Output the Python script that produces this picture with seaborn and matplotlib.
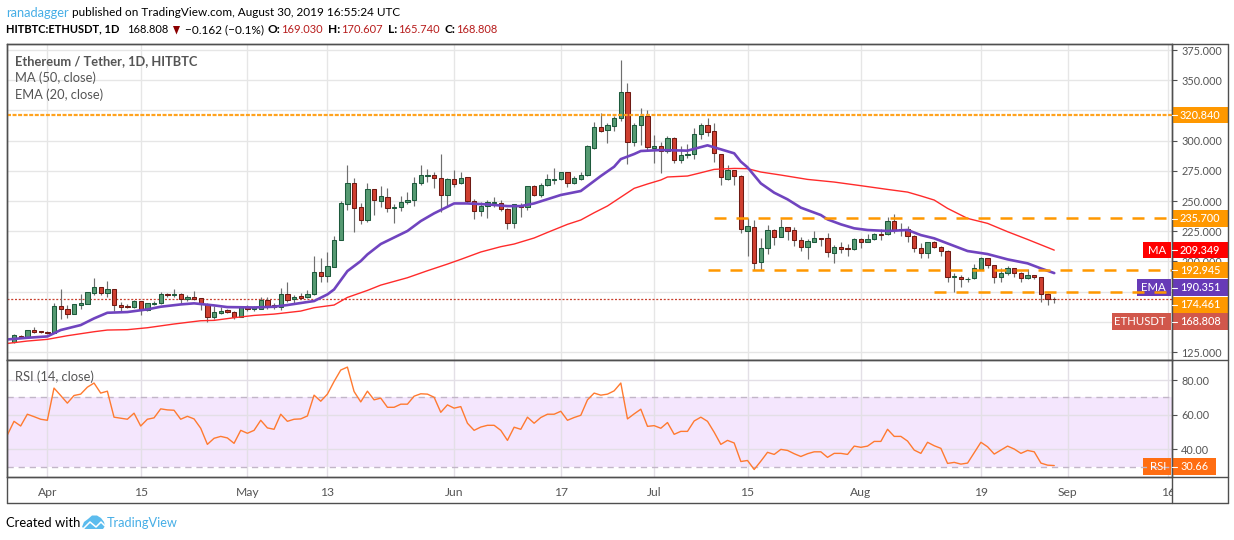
import matplotlib
matplotlib.use('Agg')
import matplotlib.pyplot as plt
from matplotlib.patches import Rectangle, Polygon
from matplotlib.lines import Line2D
import numpy as np
import pandas as pd
import seaborn as sns

# daily candles, first one is 2019-03-27
first_day = '2019-03-27'
opens = [133.5,138.5,137.1,142.9,142.1,141.2,
    141,162.8,160.3,156.7,164.2,165,174.1,178.5,174.1,176.9,
    163.6,163,162.5,166.9,159.5,165,165.3,173,172.4,172.7,
    168.9,170.2,169.4,164.4,154.2,157.5,159.5,157.8,154.2,161.9,
    160.3,160.8,167.7,163.6,162.5,172.7,168.6,171,170.5,172.7,
    190.9,188.2,195.6,217.4,247.8,264.6,244.7,234,259.6,250.3,
    253,243.9,244.7,248.9,250.5,264.6,271,271.2,268.8,254.7,
    267.9,264.6,269.6,249.7,241.4,245.6,248.6,248.6,243.1,231.5,
    246.4,244.7,262.1,254.7,262.9,267.7,267.9,273.7,264.6,268.5,
    271.2,294.2,311,308.8,311.8,318.4,340,298.6,312.6,320.1,
    294.2,295.3,291.7,301.9,283.7,287.8,288.6,305.2,312.6,307.7,
    289.2,268.5,275.4,270.4,225.4,228.2,199.2,210.8,225.7,220.5,
    228.2,225.7,217.4,212.2,216.3,219.4,219.1,206.7,211.6,210.8,
    210,218.2,216.3,218.2,223,222.4,233.2,226.5,226.5,221.3,
    210.8,206.7,216.3,211.6,208.9,186.8,187.3,185.1,186,194,
    202.5,196.7,187.3,190.1,194.2,190.6,186,188.4,186.8,172.7,169.03]
closes = [138.8,137.7,142.9,141.8,141.2,140.7,
    162.8,160.3,156.7,164.4,165.3,174.4,178.5,174.1,176.9,163.6,
    162.5,162.5,166.9,159.5,165.3,165.5,172.7,172.4,173,168.6,
    170.5,169.1,164.4,154.2,157.8,158.9,157.8,154.2,161.9,160.3,
    161.9,167.7,163.3,162.2,172.7,168,170.2,169.9,172.7,190.9,
    188.2,195.9,217.4,248,264.6,244.5,234,259.6,250.5,253.8,
    243.9,244.7,248.9,250.5,264.6,271.2,271.5,268.8,254.7,267.9,
    264.3,268.8,250.3,241.4,245.6,248.9,249.2,243.1,231.5,247.2,
    244.7,262.1,254.7,262.9,267.9,268.2,273.7,264.6,268.8,271.2,
    295.3,311,308.2,312.6,318.4,340,298.6,312.6,320.1,294.4,
    295.3,291.7,301.9,283.7,287.8,288.6,305.2,312.6,307.4,289.5,
    269.6,275.4,270.4,226.5,229,198.4,210.8,225.7,220.5,228.2,
    225.4,217.4,212.2,216.6,219.1,218.8,207.5,211.6,210.5,210,
    218.2,216.3,218.2,222.4,222.1,233.2,226,225.7,221.3,210.8,
    206.7,216.3,211.6,208.9,186.8,187.9,185.1,185.7,194.2,202.5,
    196.7,187.3,190.1,194.2,190.6,186,188.4,186.8,172.7,168.6,168.808]
highs = [139.9,139,142.9,145.4,142.4,142.6,
    165.8,177.1,163.6,164.4,172.7,174.9,186.2,178.5,183.8,176.9,
    166.6,164.4,168,167.5,165.8,167.2,174.9,173.5,177.1,173.5,
    171.9,175.5,169.9,165.3,163,161.9,160.3,158.9,162.5,163.6,
    163,170.5,170.8,165.3,177.7,182.6,172.2,174.1,176.3,204.4,
    202.8,207.8,221,249.7,279.8,268.8,248,264.6,259.9,262.4,
    260.5,247.5,254.1,257.2,270.1,279.8,276.5,274,288.9,268.8,
    275.7,274,270.1,251.4,248.9,250.8,253,250.8,243.9,247.5,
    248,262.4,263.2,264.6,272.3,277.3,274.3,274.3,270.7,274.3,
    296.1,315.4,322.6,314.3,320.4,366.7,348,314.3,326.7,325.3,
    304.6,298.8,303.8,303.3,295.5,297.2,310.4,314.3,318.4,314.3,
    289.2,279.8,275.4,271.5,235.6,234.3,219.4,230.1,226.5,234.8,
    228.7,228.2,219.9,218.2,224.9,219.4,223.2,213.3,216,214.4,
    219.4,219.4,222.7,223.2,227.1,236.5,239.2,232,229.3,221.8,
    215.5,216.3,217.1,212.7,209.4,190.1,188.4,186.8,197.8,203.9,
    203.1,196.7,194.2,196.2,194.8,191.5,193.4,189,187.3,173.5,170.607]
lows = [132.7,137,137.1,141,140.7,139.9,
    140.4,152.6,153.4,156.7,160.3,164.4,171.9,172.2,170.8,159.2,
    159.2,161.4,161.4,155.9,159.2,163.9,164.7,170.8,170.2,164.7,
    167.5,168,159.7,149.8,152,156.4,157,152.6,154.2,159.2,
    159.2,160.3,160.3,160.3,159.7,166.6,164.7,168.6,169.4,172.2,
    183.2,183.2,195.6,217.4,242.5,224.6,231,232.6,238.4,245.3,
    241.2,232,241.7,247.8,245.9,263.5,265.7,260.8,241.2,245.9,
    261.9,264.1,248,235.1,237.6,236.2,245.3,242,227.1,227.9,
    237,242.5,254.1,253,262.4,264.1,267.4,261.9,264.1,267.4,
    271,293.3,307.4,298.3,308.2,316.5,280.6,295.5,296.4,292.2,
    281.7,273.4,290,281.7,281.7,285.9,285,301.3,303.8,282.6,
    263.5,267.4,263.5,223.8,204.4,192.9,192.9,206.1,213.6,220.5,
    217.7,213,208.9,202.2,216,212.7,203.9,198.9,207.2,204.4,
    209.4,211.1,215.8,217.7,217.7,221.8,223.8,221,216,207.8,
    202.8,203.1,210.8,204.7,183.2,174.9,179.1,183.2,185.7,193.4,
    194.8,181.8,183.2,188.7,186.8,183.2,185.7,185.1,166.6,163.9,165.74]

# moving averages, read at these days counted from Apr 1
ma_days = [-6,-3,0,3,7,9,12,15,19,23,25,28,31,34,38,40,43,45,48,50,54,57,60,62,65,68,70,73,75,78,80,
    82,84,86,88,90,92,93,96,98,100,103,105,107,110,114,118,122,126,129,131,133,135,138,141,144,147,151]
ma_values = [132.1,134.1,135.5,138.5,141.8,143.2,143.5,145.1,148.2,150.9,151.2,153.4,155.3,156.4,158.9,161.7,
    163.9,170.2,176,180.4,186.5,192.3,197.8,201.7,207.8,212.2,214.4,219.4,224,230.7,234.3,
    240.3,245.9,253.2,260.5,264.1,267.4,269.9,270.7,273.4,276.2,277,276.8,274,271.5,267.9,265.7,262.7,259.6,257.4,254.2,250.8,243.9,235.6,231.5,224.6,218.2,209.349]
ema_days = [-6,-3,0,2,5,7,9,12,15,17,20,22,25,27,31,34,36,39,40,42,43,45,47,48,50,54,56,58,61,63,66,69,71,73,77,80,
    83,85,86,88,89,92,96,99,101,103,104,105,107,109,111,113,116,117,119,121,123,126,129,131,133,135,138,141,144,147,149,151]
ema_values = [135.4,136.8,137.9,143.2,147.3,152.8,157.5,158.1,160.3,162.5,164.4,165.3,163.6,162.2,161.9,162.5,163.9,166.4,167.2,
    172.7,176.8,192,200.3,205.8,214.4,225.2,233.4,239.8,248,248,247.2,245.8,245.8,248,255,258.3,
    270.7,278.4,284.7,288.9,291.4,292.2,291.7,296.1,292.8,289.5,282.6,277.9,264.6,256.9,251.4,244.5,238.4,234.8,230.7,227.4,226,225.2,226,221.8,219.1,214.9,208.6,206.1,201.7,198.4,194.2,190.351]

# RSI for every day from 2019-03-26
rsi_values = [48.3,56.2,53.5,60.3,58.9,57.4,56.8,
    75.4,71.1,66.7,71.1,71.9,75.9,78.3,72.5,73.6,58.6,
    58,57.4,60.9,53.5,57.4,58.2,63.4,62.8,62.6,57.4,
    59.1,57.6,52.2,42.9,46.4,47.5,46.6,43.5,51,49.3,
    51,56.8,52.4,51.6,60.3,56.2,57.4,57.6,59.3,71.3,
    67.8,71.9,79.2,85.8,87.5,73.4,67.4,73.6,68.6,69.6,
    64.3,64.3,66.1,66.1,70.7,72.1,71.9,70.1,61.4,65.7,
    63.8,64.7,55.1,51,52.9,53.9,53.9,51,45.2,52.8,
    51.6,58.6,55.1,58.4,60.3,60.3,62,56.8,58.4,59.7,
    68.6,72.5,71.3,71.9,73.8,78.3,57.6,60.5,63.2,53.3,
    53.7,52.2,55.5,48.7,50.4,50.4,56.4,58.6,56.2,49.9,
    42.9,45.2,43.7,33,33.6,28.4,33.2,38.3,37.1,40,
    39.4,37.5,35.9,37.5,38.6,38.6,35.4,37.7,37.7,37.1,
    41.9,41.2,41.9,44.6,44.6,51.6,47.5,47.5,44.8,39.6,
    37.7,44.1,42.1,40.6,31.9,32.5,31.5,32.1,38.1,44.1,
    41.5,37.3,39.6,41.9,40.2,37.7,39.4,38.6,32.1,30.9,30.66]

level_prices = [320.84, 235.7, 192.945, 174.461]
level_starts = ['2019-03-26', '2019-07-10', '2019-07-09', '2019-08-12']
price_ticks = [125, 150, 175, 200, 225, 250, 275, 300, 325, 350, 375]
hidden_price_labels = [150, 175, 325]  # these sit under the coloured scale boxes
rsi_ticks = [40, 60, 80]
date_ticks = ['2019-04-01','2019-04-15','2019-05-01','2019-05-13','2019-06-01','2019-06-17',
    '2019-07-01','2019-07-15','2019-08-01','2019-08-19','2019-09-01','2019-09-16']
date_labels = ['Apr','15','May','13','Jun','17','Jul','15','Aug','19','Sep','16']

W, H = 1234, 540
sns.set_style('white')
plt.rcParams['font.family'] = ['Lato', 'DejaVu Sans']

GREY = '#555555'
FRAME = '#4f4f4f'
ORANGE = '#ff9800'
RED_TXT = '#b71c1c'
HEAD = 8.5
SCALE = 7.8


def fx(x):
    return x / W


def fy(y):
    return 1 - y / H


def put(x, y, s, **kw):
    kw.setdefault('fontsize', 9.3)
    kw.setdefault('color', 'black')
    kw.setdefault('va', 'center')
    kw.setdefault('zorder', 8)
    fig.text(fx(x), fy(y), s, **kw)


def frect(x0, y0, x1, y1, color, zorder=5):
    fig.add_artist(Rectangle((fx(x0), fy(y1)), fx(x1 - x0), (y1 - y0) / H, transform=fig.transFigure,
                             facecolor=color, edgecolor='none', zorder=zorder))


def fline(x0, y0, x1, y1, color=FRAME, lw=1.0, zorder=6):
    fig.add_artist(Line2D([fx(x0), fx(x1)], [fy(y0), fy(y1)], transform=fig.transFigure,
                          color=color, lw=lw, zorder=zorder))


fig = plt.figure(figsize=(W / 100, H / 100), dpi=100)
ax = fig.add_axes([fx(6.5), fy(360), fx(1165), 316.5 / H])
ax_rsi = fig.add_axes([fx(6.5), fy(476.5), fx(1165), 116.5 / H])

candles = pd.DataFrame({'date': pd.date_range(first_day, periods=len(opens)),
                        'open': opens, 'high': highs, 'low': lows, 'close': closes})
up = candles[candles['close'] >= candles['open']]
down = candles[candles['close'] < candles['open']]
apr1 = pd.Timestamp('2019-04-01')
ma_df = pd.DataFrame({'date': apr1 + pd.to_timedelta(ma_days, unit='D'), 'value': ma_values})
ema_df = pd.DataFrame({'date': apr1 + pd.to_timedelta(ema_days, unit='D'), 'value': ema_values})
rsi_df = pd.DataFrame({'date': pd.date_range('2019-03-26', periods=len(rsi_values)), 'value': rsi_values})

# wicks then bodies
ax.vlines(candles['date'], candles['low'], candles['high'], color='#6f6f6f', lw=0.85, zorder=3)
ax.bar(up['date'], up['close'] - up['open'], bottom=up['open'], width=0.65, color='#569a72',
       edgecolor='#1d5a3c', linewidth=0.75, zorder=4)
ax.bar(down['date'], down['open'] - down['close'], bottom=down['close'], width=0.65, color='#cf3f30',
       edgecolor='#6f1a13', linewidth=0.75, zorder=4)

sns.lineplot(data=ma_df, x='date', y='value', ax=ax, color='#ff2b2b', lw=1.0, estimator=None, zorder=5)
sns.lineplot(data=ema_df, x='date', y='value', ax=ax, color='#7044bf', lw=1.9, estimator=None, zorder=5)

right_end = pd.Timestamp('2019-09-17')
ax.plot([pd.Timestamp(level_starts[0]), right_end], [level_prices[0]] * 2, color='#ffa31f', lw=1.6,
        ls=(0, (1.8, 0.7)), dash_capstyle='butt', zorder=6)
for price, begin in zip(level_prices[1:], level_starts[1:]):
    ax.plot([pd.Timestamp(begin), right_end], [price, price], color=ORANGE, lw=1.8,
            ls=(0, (4.8, 4.0)), dash_capstyle='butt', zorder=6)
ax.axhline(closes[-1], color='#c8402f', lw=0.9, ls=(0, (1.6, 1.4)), zorder=2)

ax_rsi.axhspan(30, 70, color='#f4e6fd', lw=0, zorder=0)
ax_rsi.axhline(70, color='#c2b6c8', lw=1, ls=(0, (4.5, 3.5)), zorder=2)
ax_rsi.axhline(30, color='#c2b6c8', lw=1, ls=(0, (4.5, 3.5)), zorder=2)
sns.lineplot(data=rsi_df, x='date', y='value', ax=ax_rsi, color='#ff7a30', lw=1.0, estimator=None, zorder=4)

x_left = pd.Timestamp('2019-03-25 21:00')
x_right = pd.Timestamp('2019-09-16 14:00')
for a in (ax, ax_rsi):
    a.set_xlim(x_left, x_right)
    a.set_xlabel('')
    a.set_ylabel('')
    a.set_xticks(pd.to_datetime(date_ticks))
    a.yaxis.tick_right()
    a.grid(True, color='#e6e6e6', lw=1)
    a.set_axisbelow(True)
    for side in a.spines:
        a.spines[side].set_color(FRAME)
        a.spines[side].set_linewidth(1)

ax.set_ylim(118.4, 380.4)
ax.set_yticks(price_ticks)
ax.set_yticklabels(['' if v in hidden_price_labels else '%.3f' % v for v in price_ticks])
ax.tick_params(axis='x', length=0, labelbottom=False)
ax.tick_params(axis='y', length=3.5, width=0.8, color=FRAME, labelsize=SCALE, labelcolor=GREY, pad=3.5, left=False)

ax_rsi.set_ylim(24.35, 91.6)
ax_rsi.set_yticks(rsi_ticks)
ax_rsi.set_yticklabels(['%.2f' % v for v in rsi_ticks])
ax_rsi.set_xticklabels(date_labels)
ax_rsi.tick_params(axis='x', length=2.5, width=0.8, color=FRAME, labelsize=8.7, labelcolor=GREY, pad=5)
ax_rsi.tick_params(axis='y', length=3.5, width=0.8, color=FRAME, labelsize=SCALE, labelcolor=GREY, pad=3.5, left=False)
ax_rsi.grid(True, color='#e3dfe6', lw=1)

# outer frame of the widget
frect(1172, 477, 1227, 503, 'white', zorder=4)
fline(6.5, 43.5, 1227.5, 43.5)
fline(1227.5, 43.5, 1227.5, 503)
fline(6.5, 503, 1227.5, 503)
fline(6.5, 43.5, 6.5, 503)
fline(1171.5, 43.5, 1171.5, 503)
fline(6.5, 360.3, 1227.5, 360.3)
fline(6.5, 476.5, 1227.5, 476.5)

# price labels on the scale
scale_boxes = [('320.840', 115, ORANGE), ('235.700', 218.5, ORANGE), ('209.349', 250, '#ff0000'),
               ('192.945', 270, ORANGE), ('190.351', 287.5, '#673ab7'), ('174.461', 304.7, ORANGE),
               ('168.808', 321.5, '#d1574b')]
for txt, yc, col in scale_boxes:
    frect(1172, yc - 8.2, 1228, yc + 8.2, col)
    fline(1172, yc, 1176.5, yc, color='white', lw=0.8, zorder=7)
    put(1180, yc, txt, color='white', fontsize=SCALE, fontweight='medium')
frect(1172, 458, 1216, 475, '#ff6d12')
fline(1172, 466.5, 1176.5, 466.5, color='white', lw=0.8, zorder=7)
put(1180, 466.5, '30.66', color='white', fontsize=SCALE)

# name tags left of the scale, dashed lines run over them
for txt, x0, yc, col, target in [('MA', 1143, 250, '#ff0000', ax), ('EMA', 1137, 287.5, '#673ab7', ax),
                                 ('ETHUSDT', 1112, 321.5, '#d1574b', ax), ('RSI', 1143, 466.5, '#ff6d12', ax_rsi)]:
    target.add_patch(Rectangle((fx(x0), fy(yc + 8.2)), fx(1170.5 - x0), 16.4 / H, transform=fig.transFigure,
                               facecolor=col, edgecolor='none', zorder=1.5, clip_on=False))
    put(1166, yc, txt, color='white', ha='right', fontsize=8.2)

# header
put(6, 12.7, 'ranadagger', color='#46aee6', fontsize=HEAD + 0.8)
put(72, 12.7, 'published on TradingView.com, August 30, 2019 16:55:24 UTC', fontsize=HEAD)
put(6, 29.3, 'HITBTC:ETHUSDT, 1D', fontsize=8.0, fontweight='bold')
put(127, 29.3, '168.808', fontsize=SCALE + 0.2)
fig.add_artist(Polygon([[fx(173), fy(26)], [fx(180), fy(26)], [fx(176.5), fy(34.5)]], transform=fig.transFigure,
                       facecolor='#8b0000', edgecolor='none', zorder=8))
put(185, 29.3, '\u22120.162 (\u22120.1%)', fontsize=HEAD)
for lab, xl, val, xv in [('O:', 268, '169.030', 281), ('H:', 328, '170.607', 341),
                         ('L:', 388, '165.740', 398), ('C:', 445, '168.808', 456)]:
    put(xl, 29.3, lab, fontsize=8.6, fontweight='bold')
    put(xv, 29.3, val, fontsize=SCALE + 0.2, color=RED_TXT)

# pane legends
put(15, 60.7, 'Ethereum / Tether, 1D, HITBTC', color=GREY, fontweight='bold')
put(15, 77.7, 'MA (50, close)', color=GREY)
put(15, 95, 'EMA (20, close)', color=GREY)
put(15, 377, 'RSI (14, close)', color=GREY)

# footer
put(6, 522.7, 'Created with', fontsize=9.4)
cloud = [[82, 527], [84, 522], [88, 519], [92, 515.5], [97, 515.5], [101, 518], [104, 522], [105, 526], [103, 529], [85, 529]]
fig.add_artist(Polygon([[fx(a), fy(b)] for a, b in cloud], transform=fig.transFigure,
                       facecolor='#5cbcee', edgecolor='none', zorder=8))
fig.add_artist(Line2D([fx(v) for v in [83, 90, 96, 101, 105]], [fy(v) for v in [529, 522, 527, 522, 526]],
                      transform=fig.transFigure, color='white', lw=1.1, zorder=9))
put(106.5, 522.7, 'TradingView', color='#46aee6', fontsize=9.2)

fig.savefig('out.png', dpi=100)
